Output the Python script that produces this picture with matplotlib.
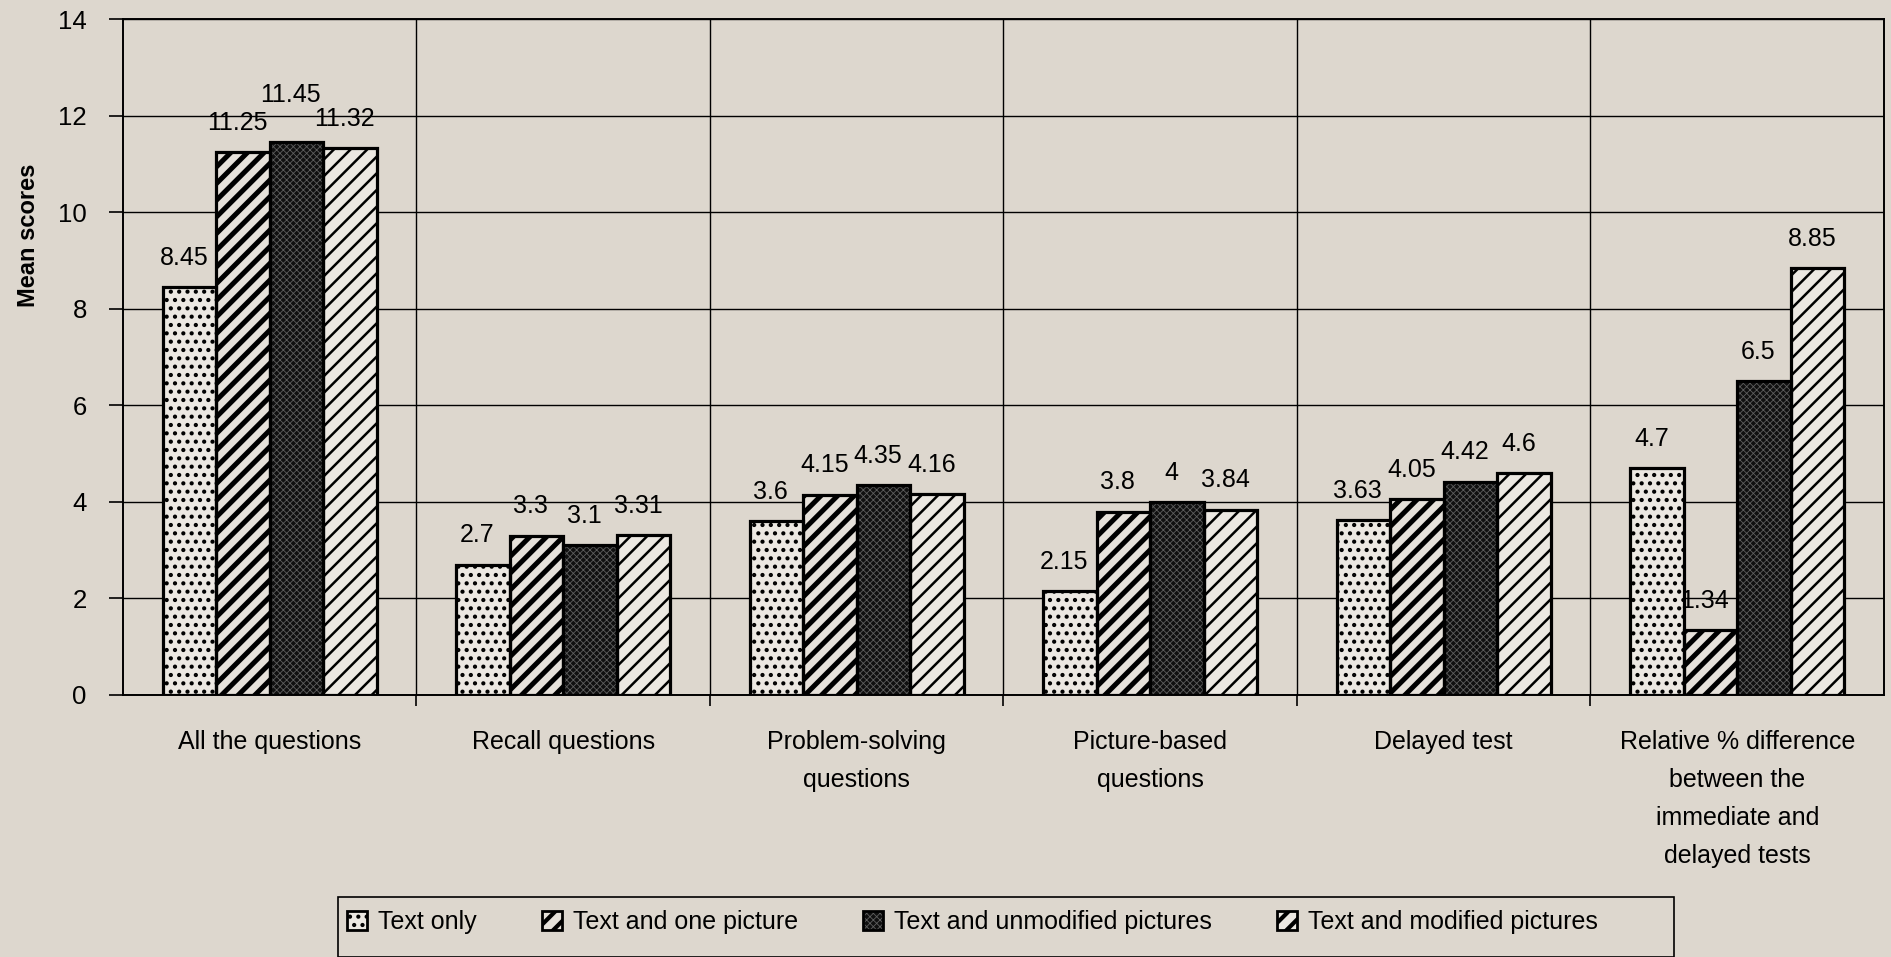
import numpy as np
import matplotlib
matplotlib.use("Agg")
import matplotlib.pyplot as plt
from matplotlib.patches import Patch, Rectangle

# ---- data ----
categories = [
    "All the questions",
    "Recall questions",
    "Problem-solving\nquestions",
    "Picture-based\nquestions",
    "Delayed test",
    "Relative % difference\nbetween the\nimmediate and\ndelayed tests",
]
series_names = [
    "Text only",
    "Text and one picture",
    "Text and unmodified pictures",
    "Text and modified pictures",
]
text_only = [8.45, 2.7, 3.6, 2.15, 3.63, 4.7]
text_one_picture = [11.25, 3.3, 4.15, 3.8, 4.05, 1.34]
text_unmodified = [11.45, 3.1, 4.35, 4.0, 4.42, 6.5]
text_modified = [11.32, 3.31, 4.16, 3.84, 4.6, 8.85]
y_ticks = [0, 2, 4, 6, 8, 10, 12, 14]

series = [text_only, text_one_picture, text_unmodified, text_modified]

# ---- style ----
BG = "#ddd7ce"
FONT = ["Liberation Sans Narrow", "Liberation Sans", "DejaVu Sans"]
plt.rcParams["font.family"] = FONT

# per-series look: face colour, hatch, hatch colour, hatch linewidth
styles = [
    dict(face="#ece8e2", hatch="..", hcolor="black", hlw=1.8),
    dict(face="#e6e1da", hatch="//", hcolor="black", hlw=3.6),
    dict(face="#101010", hatch="xxxxx", hcolor="#5e5e5e", hlw=0.6),
    dict(face="#ece8e2", hatch="//", hcolor="black", hlw=1.8),
]


def set_hatch_lw(patch, lw):
    if hasattr(patch, "set_hatch_linewidth"):
        patch.set_hatch_linewidth(lw)
    else:
        patch._hatch_linewidth = lw


fig = plt.figure(figsize=(18.91, 9.57), dpi=100, facecolor=BG)
ax = fig.add_axes([0.0650, 0.2738, 0.9313, 0.7063], facecolor=BG)

x = np.arange(len(categories))
n = len(series)
width = 0.73 / n

legend_handles = []
for i, (vals, st) in enumerate(zip(series, styles)):
    pos = x + (i - (n - 1) / 2) * width
    fill_bars = ax.bar(pos, vals, width, color=st["face"], edgecolor=st["hcolor"],
                       hatch=st["hatch"], linewidth=0, zorder=3)
    for p in fill_bars:
        set_hatch_lw(p, st["hlw"])
    ax.bar(pos, vals, width, fill=False, edgecolor="black",
           linewidth=2.3, zorder=4)
    h_fill = Patch(facecolor=st["face"], edgecolor=st["hcolor"],
                   hatch=st["hatch"], linewidth=0)
    h_edge = Patch(fill=False, edgecolor="black", linewidth=2.0)
    legend_handles.append((h_fill, h_edge))

    for xi, v in zip(pos, vals):
        dy = 21
        if v == 11.45:
            dy = 34
        ax.annotate(f"{v:g}", (xi, v), xytext=(-4, dy), textcoords="offset points",
                    ha="center", va="center", fontsize=18, zorder=5)

# axes & grid
ax.set_xlim(-0.5, len(categories) - 0.5)
ax.set_ylim(0, 14)
ax.set_yticks(y_ticks)
ax.set_yticklabels([str(t) for t in y_ticks], fontsize=18.5)
ax.tick_params(axis="y", length=10, width=1.2, pad=16, direction="out")
ax.set_xticks(x)
ax.set_xticklabels(categories, fontsize=18, linespacing=1.74, va="top")
ax.tick_params(axis="x", which="major", length=0, pad=25)
ax.set_xticks(np.arange(0.5, len(categories) - 0.5, 1.0), minor=True)
ax.tick_params(axis="x", which="minor", length=8, width=1.2, direction="out")
ax.grid(axis="y", which="major", color="black", linewidth=1.0, zorder=1)
ax.grid(axis="x", which="minor", color="black", linewidth=1.0, zorder=1)
ax.set_axisbelow(True)
for s in ax.spines.values():
    s.set_color("black")
    s.set_linewidth(1.4)

ax.set_ylabel("Mean scores", fontsize=17, fontweight="bold", fontfamily=FONT)
ax.yaxis.set_label_coords(-0.047, 0.68)

# legend frame and entries
fig.patches.append(Rectangle((338 / 1891, 0.0), (1674 - 338) / 1891, 60 / 957,
                             transform=fig.transFigure, facecolor=BG,
                             edgecolor="black", linewidth=1.2, zorder=0))
leg = fig.legend(legend_handles, series_names, loc="center left",
                 bbox_to_anchor=(347 / 1891, 1 - 922 / 957),
                 ncol=4, fontsize=18, frameon=False, handlelength=0.8,
                 handleheight=0.8, handletextpad=0.45, columnspacing=2.59,
                 borderaxespad=0, borderpad=0.0)
for art in leg.findobj(Patch):
    hatch = art.get_hatch()
    if hatch == "//":
        set_hatch_lw(art, 3.0)
    elif hatch:
        for st in styles:
            if st["hatch"] == hatch:
                set_hatch_lw(art, st["hlw"])
                break

fig.savefig("out.png", dpi=100, facecolor=BG)
